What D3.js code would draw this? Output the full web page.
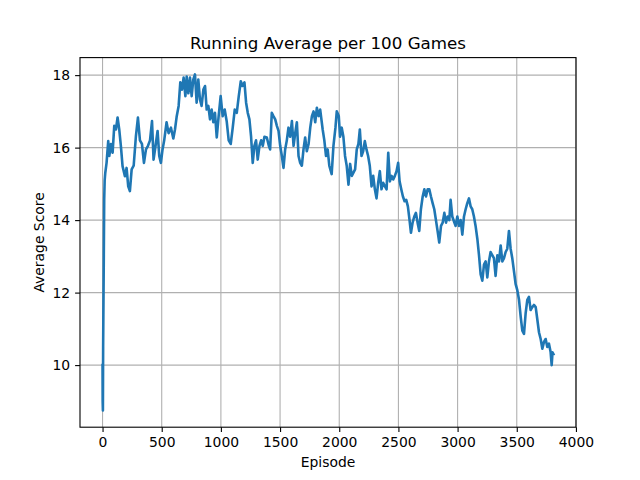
<!DOCTYPE html>
<html>
<head>
<meta charset="utf-8">
<script src="https://cdn.jsdelivr.net/npm/d3@7"></script>
<style>
  body { margin: 0; background: #fff; }
  svg { display: block; font-family: "DejaVu Sans", sans-serif; }
</style>
</head>
<body>
<svg id="chart" width="640" height="480"></svg>
<script>
// ---- data ----
const episodes = [
  0, 1, 3, 5, 7, 10, 14, 18, 23, 34, 48, 57, 71, 85, 99, 113, 127, 141, 155, 169,
  189, 203, 217, 231, 246, 263, 282, 299, 316, 333, 350, 367, 384, 401, 418, 431,
  448, 465, 479, 493, 507, 521, 541, 558, 578, 598, 612, 626, 643, 657, 671, 685,
  700, 711, 725, 739, 753, 767, 781, 795, 809, 823, 837, 852, 866, 880, 894, 908,
  922, 936, 950, 965, 981, 998, 1015, 1032, 1049, 1066, 1083, 1100, 1117, 1134, 1151, 1168,
  1182, 1199, 1213, 1227, 1241, 1255, 1269, 1283, 1297, 1311, 1326, 1340, 1354, 1368, 1388, 1405,
  1416, 1430, 1444, 1459, 1473, 1487, 1501, 1515, 1529, 1543, 1557, 1571, 1585, 1600, 1614, 1628,
  1642, 1656, 1670, 1684, 1698, 1712, 1726, 1741, 1755, 1769, 1783, 1797, 1811, 1825, 1839, 1860,
  1874, 1888, 1902, 1916, 1936, 1951, 1968, 1979, 1996, 2007, 2021, 2035, 2049, 2063, 2078, 2092,
  2106, 2120, 2134, 2148, 2162, 2174, 2188, 2202, 2216, 2230, 2244, 2258, 2273, 2287, 2301, 2315,
  2329, 2343, 2357, 2371, 2386, 2400, 2414, 2428, 2442, 2456, 2470, 2484, 2498, 2510, 2524, 2538,
  2552, 2566, 2580, 2594, 2606, 2620, 2634, 2648, 2662, 2676, 2690, 2705, 2719, 2733, 2747, 2761,
  2775, 2789, 2803, 2817, 2831, 2845, 2860, 2874, 2888, 2902, 2916, 2930, 2941, 2955, 2969, 2983,
  2998, 3012, 3026, 3040, 3054, 3068, 3082, 3096, 3110, 3124, 3138, 3152, 3167, 3181, 3195, 3209,
  3223, 3237, 3251, 3265, 3279, 3293, 3307, 3321, 3336, 3350, 3364, 3378, 3392, 3406, 3420, 3434,
  3448, 3462, 3476, 3490, 3505, 3519, 3533, 3547, 3561, 3575, 3589, 3603, 3617, 3631, 3645, 3660,
  3674, 3688, 3702, 3716, 3730, 3744, 3758, 3772, 3786, 3795, 3802, 3810
];
const avgScore = [
  10.0, 9.0, 8.75, 10.5, 11.4, 12.7, 14.57, 15.1, 15.3, 15.58, 16.18, 15.77, 16.1, 15.86, 16.6, 16.5, 16.83, 16.5, 16.04, 15.49,
  15.21, 15.44, 14.93, 14.8, 15.4, 15.5, 16.32, 16.83, 16.2, 16.1, 15.58, 15.95, 16.05, 16.2, 16.73, 15.67,
  16.05, 16.46, 15.77, 15.58, 15.95, 16.2, 16.7, 16.4, 16.55, 16.25, 16.5, 16.85, 17.15, 17.8, 17.6, 17.93,
  17.42, 17.96, 17.5, 17.93, 17.42, 17.88, 18.02, 17.24, 17.88, 17.33, 17.15, 17.6, 17.7, 17.05, 17.15, 16.78,
  17.05, 16.7, 16.96, 16.28, 16.87, 17.42, 16.87, 17.05, 16.73, 16.2, 16.1, 16.55, 17.05, 16.96, 17.42, 17.83,
  17.7, 17.8, 17.24, 16.96, 16.78, 16.3, 15.58, 16.05, 16.2, 15.67, 16.05, 16.2, 16.05, 16.3, 16.28, 16.05,
  15.95, 16.96, 16.87, 16.78, 16.6, 16.46, 16.05, 15.77, 15.44, 15.95, 16.2, 16.55, 16.3, 16.73, 16.05, 16.4,
  16.7, 15.77, 15.58, 15.5, 15.95, 16.28, 15.9, 16.1, 16.55, 16.87, 17.0, 16.7, 17.1, 16.87, 17.05, 16.5,
  16.2, 15.77, 15.95, 15.5, 15.27, 16.05, 16.55, 17.0, 16.87, 16.3, 16.55, 16.3, 15.77, 15.5, 14.98, 15.55,
  15.22, 15.31, 15.4, 15.95, 16.1, 16.5, 15.77, 15.9, 16.18, 15.95, 15.77, 15.5, 14.93, 15.22, 14.85, 14.6,
  15.03, 15.35, 14.85, 15.03, 14.93, 14.85, 15.86, 15.07, 15.22, 15.12, 15.22, 15.35, 15.58, 15.07, 14.85, 14.65,
  14.52, 14.56, 14.38, 14.0, 13.65, 13.93, 14.1, 14.2, 13.93, 13.7, 14.3, 14.65, 14.85, 14.65, 14.85, 14.85,
  14.65, 14.47, 14.3, 14.0, 13.7, 13.38, 13.84, 13.93, 14.2, 13.93, 14.1, 14.0, 14.56, 14.1, 13.97, 13.84,
  14.1, 13.84, 14.0, 13.6, 14.1, 14.3, 14.47, 14.6, 14.38, 14.3, 14.1, 13.84, 13.48, 13.03, 12.5, 12.33,
  12.77, 12.86, 12.42, 12.86, 13.12, 13.03, 12.95, 12.46, 13.03, 12.86, 13.3, 12.86, 12.95, 13.12, 13.21, 13.7,
  13.21, 12.95, 12.6, 12.24, 12.06, 11.8, 11.34, 10.95, 10.86, 11.43, 11.8, 11.88, 11.52, 11.6, 11.66, 11.6,
  11.25, 10.9, 10.72, 10.45, 10.64, 10.72, 10.5, 10.59, 10.36, 10.0, 10.35, 10.3
];
const xTicks = [0, 500, 1000, 1500, 2000, 2500, 3000, 3500, 4000];
const yTicks = [10, 12, 14, 16, 18];
const titleText = "Running Average per 100 Games";
const xLabelText = "Episode";
const yLabelText = "Average Score";

// ---- layout ----
const W = 640, H = 480;
const L = 80, R = 576, T = 57.6, B = 427.2;
const svg = d3.select("#chart");

const xMin = d3.min(episodes), xMax = d3.max(episodes);
const yMin = d3.min(avgScore), yMax = d3.max(avgScore);
const xPad = (xMax - xMin) * 0.05, yPad = (yMax - yMin) * 0.05;
const x = d3.scaleLinear().domain([xMin - xPad, xMax + xPad]).range([L, R]);
const y = d3.scaleLinear().domain([yMin - yPad, yMax + yPad]).range([B, T]);

// grid
const grid = svg.append("g");
grid.selectAll("line.gx").data(xTicks).enter().append("line")
  .attr("x1", d => x(d)).attr("x2", d => x(d)).attr("y1", T).attr("y2", B)
  .attr("stroke", "#b0b0b0").attr("stroke-width", 1.1);
grid.selectAll("line.gy").data(yTicks).enter().append("line")
  .attr("y1", d => y(d)).attr("y2", d => y(d)).attr("x1", L).attr("x2", R)
  .attr("stroke", "#b0b0b0").attr("stroke-width", 1.1);

// line
const pts = episodes.map((e, i) => [e, avgScore[i]]);
svg.append("path")
  .datum(pts)
  .attr("d", d3.line().x(d => x(d[0])).y(d => y(d[1])))
  .attr("fill", "none")
  .attr("stroke", "#1f77b4")
  .attr("stroke-width", 2.6)
  .attr("stroke-linejoin", "round")
  .attr("stroke-linecap", "square");

// axes
const xAxis = d3.axisBottom(x).tickValues(xTicks).tickSizeInner(4.9).tickSizeOuter(0).tickPadding(4.9).tickFormat(d3.format("d"));
const yAxis = d3.axisLeft(y).tickValues(yTicks).tickSizeInner(4.9).tickSizeOuter(0).tickPadding(4.9).tickFormat(d3.format("d"));
const gx = svg.append("g").attr("transform", `translate(0,${B})`).call(xAxis);
const gy = svg.append("g").attr("transform", `translate(${L},0)`).call(yAxis);
[gx, gy].forEach(g => {
  g.select(".domain").remove();
  g.selectAll(".tick line").attr("stroke", "#000").attr("stroke-width", 1.1);
  g.selectAll(".tick text").attr("fill", "#000").style("font-size", "13.9px").style("font-family", "DejaVu Sans");
});

// frame
svg.append("rect").attr("x", L).attr("y", T).attr("width", R - L).attr("height", B - T)
  .attr("fill", "none").attr("stroke", "#000").attr("stroke-width", 1.1);

// title and labels
svg.append("text").attr("x", (L + R) / 2).attr("y", T - 8.3)
  .attr("text-anchor", "middle").style("font-size", "16.7px").attr("fill", "#000").text(titleText);
svg.append("text").attr("x", (L + R) / 2).attr("y", 467)
  .attr("text-anchor", "middle").style("font-size", "13.9px").attr("fill", "#000").text(xLabelText);
svg.append("text").attr("transform", `translate(44,${(T + B) / 2}) rotate(-90)`)
  .attr("text-anchor", "middle").style("font-size", "13.9px").attr("fill", "#000").text(yLabelText);
</script>
</body>
</html>
